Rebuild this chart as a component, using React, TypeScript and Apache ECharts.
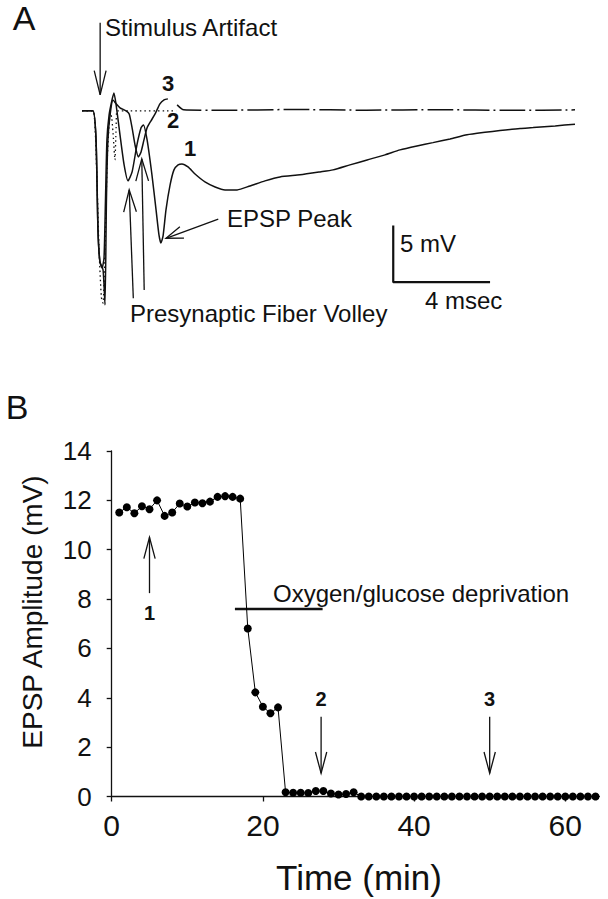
import React, { useEffect, useRef } from "react";
import * as echarts from "echarts";

// ---------- Panel B data ----------
const timeMin = [
  1, 2, 3, 4, 5, 6, 7, 8, 9, 10, 11, 12, 13, 14, 15, 16, 17,
  18, 19, 20, 21, 22,
  23, 24, 25, 26, 27, 28, 29, 30, 31, 32,
  33, 34, 35, 36, 37, 38, 39, 40, 41, 42, 43, 44, 45, 46, 47, 48,
  49, 50, 51, 52, 53, 54, 55, 56, 57, 58, 59, 60, 61, 62, 63, 64,
];
const epspAmplitude = [
  11.51, 11.72, 11.48, 11.76, 11.64, 12.0, 11.37, 11.51, 11.87, 11.75, 11.91, 11.88, 11.95, 12.14, 12.17, 12.14, 12.07,
  6.81, 4.22, 3.64, 3.37, 3.61,
  0.17, 0.15, 0.15, 0.14, 0.22, 0.22, 0.12, 0.08, 0.1, 0.17,
  0, 0, 0, 0, 0, 0, 0, 0, 0, 0, 0, 0, 0, 0, 0, 0,
  0, 0, 0, 0, 0, 0, 0, 0, 0, 0, 0, 0, 0, 0, 0, 0,
];
const xTicks = [0, 20, 40, 60];
const ogdSpan = [16.3, 27.9]; // minutes
const ogdLevel = 7.6; // mV
// arrows: [time, tailValue, tipValue, labelValue, label]
const sampleArrows: [number, number, number, number, string][] = [
  [5, 8.24, 10.5, 7.43, "1"],
  [27.7, 3.23, 0.94, 3.95, "2"],
  [50, 3.23, 0.94, 3.95, "3"],
];

// ---------- Panel A traces (ms, mV) ----------
const trace1 = [
  [-0.75, 0], [-0.3, 0], [-0.17, -2.57], [-0.09, -10.53], [-0.01, -13.36], [0.08, -13.89], [0.16, -13.01],
  [0.22, -7.88], [0.28, -2.57], [0.37, -0.35], [0.49, 0.97], [0.57, 1.59], [0.66, 0.53], [0.82, -2.12],
  [0.99, -4.78], [1.15, -6.19], [1.32, -5.4], [1.52, -3.01], [1.69, -1.5], [1.79, -1.24], [1.94, -2.57],
  [2.14, -5.66], [2.31, -8.76], [2.43, -10.97], [2.51, -11.68], [2.6, -11.06], [2.72, -8.76], [2.89, -6.55],
  [3.05, -5.22], [3.22, -4.78], [3.38, -4.69], [3.63, -4.96], [3.92, -5.58], [4.33, -6.28], [4.75, -6.73],
  [5.16, -6.99], [5.66, -6.99], [6.19, -6.64], [6.81, -6.19], [7.43, -5.84], [8.26, -5.66], [9.09, -5.4],
  [9.62, -5.22], [10.32, -4.78], [11.03, -4.34], [11.77, -3.89], [12.39, -3.45], [13.09, -3.1], [13.75, -2.81],
  [14.46, -2.48], [15.16, -2.12], [15.9, -1.9], [16.52, -1.74], [17.35, -1.55], [17.89, -1.48], [18.8, -1.33],
  [19.62, -1.18],
];
const trace2Early = [
  [-0.75, 0], [-0.3, 0], [-0.17, -2.57], [-0.09, -10.53], [-0.01, -13.36], [0.12, -14.07], [0.2, -17.17],
  [0.26, -7.88], [0.32, -2.57], [0.41, -0.35], [0.53, 0.97], [0.66, 0.62], [0.82, 0.27], [1.07, 0],
  [1.2, -0.27], [1.32, -1.5], [1.44, -3.01], [1.58, -4.07], [1.69, -3.63], [1.81, -2.57], [1.94, -1.5],
  [2.1, -0.88], [2.27, -0.27], [2.47, 0.62], [2.64, 0.97], [2.8, 1.06],
];
const trace2Late = [
  [3.18, 0.53], [3.45, 0.09], [5, 0.05], [8, 0.12], [11, 0.06], [14, 0.1], [17, 0.05], [19.62, 0.09],
];
const trace3Dotted = [
  [-0.75, 0], [-0.3, 0], [-0.15, -5], [-0.05, -12], [0.05, -16.5], [0.12, -17.0], [0.2, -12], [0.3, -4],
  [0.42, -0.2], [0.48, -0.62], [0.55, -2.5], [0.61, -4.34], [0.66, -1.5], [0.7, 0], [3.14, 0],
];
const scaleBar = [[12.11, -10.15], [12.11, -15.15], [16.11, -15.15]];
// panel A arrows: [tail(ms,mV), tip(ms,mV)]
const stimArrow = [[0, 7.79], [0, 1.42]];
const volleyArrows = [
  [[1.37, -16.58], [1.2, -6.99]],
  [[1.82, -15.84], [1.72, -4.25]],
];
const epspArrow = [[4.88, -9.58], [2.72, -11.27]];

const FONT = "'Liberation Sans', Arial, Helvetica, sans-serif";
const BOLD = "'Liberation Sans Narrow', 'Liberation Sans', Arial, sans-serif";
const INK = "#111";

function arrowEls(tail: number[], tip: number[], hl = 22, ang = 0.28, lw = 1.3) {
  const dx = tail[0] - tip[0];
  const dy = tail[1] - tip[1];
  const L = Math.hypot(dx, dy) || 1;
  const ux = dx / L, uy = dy / L;
  const rot = (a: number) => [ux * Math.cos(a) - uy * Math.sin(a), ux * Math.sin(a) + uy * Math.cos(a)];
  const r1 = rot(ang), r2 = rot(-ang);
  return [
    { type: "line", silent: true, shape: { x1: tail[0], y1: tail[1], x2: tip[0], y2: tip[1] }, style: { stroke: INK, lineWidth: lw } },
    {
      type: "polyline", silent: true,
      shape: { points: [[tip[0] + r1[0] * hl, tip[1] + r1[1] * hl], [tip[0], tip[1]], [tip[0] + r2[0] * hl, tip[1] + r2[1] * hl]] },
      style: { stroke: INK, lineWidth: lw, fill: null },
    },
  ];
}

function txt(text: string, x: number, y: number, size: number, align = "left", bold = false, rotation = 0) {
  return {
    type: "text", silent: true, x, y, rotation,
    style: {
      text, fill: INK, fontSize: size, fontFamily: bold ? BOLD : FONT, fontWeight: bold ? "bold" : "normal",
      align, verticalAlign: "middle",
    },
  };
}

export default function App() {
  const ref = useRef<HTMLDivElement>(null);
  useEffect(() => {
    if (!ref.current) return;
    const chart = echarts.init(ref.current, null, { renderer: "svg" });
    const traceLine = (data: number[][], extra: any = {}) => ({
      type: "line", xAxisIndex: 0, yAxisIndex: 0, data, showSymbol: false, symbol: "none",
      smooth: 0.2, clip: false, silent: true,
      lineStyle: { color: INK, width: 1.5, ...extra },
    });
    chart.setOption({
      animation: false,
      backgroundColor: "#fff",
      grid: [
        { left: 82, top: 60, width: 493, height: 260, outerBoundsMode: "none" },
        { left: 111.7, top: 451, width: 487.6, height: 345.5, outerBoundsMode: "none" },
      ],
      xAxis: [
        { gridIndex: 0, type: "value", min: -0.75, max: 19.62, show: false },
        {
          gridIndex: 1, type: "value", min: 0, max: 64.5, interval: 20,
          axisLine: { show: true, onZero: false, lineStyle: { color: INK, width: 1.3 } },
          axisTick: { show: true, length: 5, customValues: xTicks, lineStyle: { color: INK, width: 1.3 } },
          axisLabel: { customValues: xTicks, fontSize: 30, fontFamily: FONT, color: INK, margin: 14 },
          splitLine: { show: false },
        },
      ],
      yAxis: [
        { gridIndex: 0, type: "value", min: -18.5, max: 4.5, show: false },
        {
          gridIndex: 1, type: "value", min: 0, max: 14, interval: 2,
          axisLine: { show: true, onZero: false, lineStyle: { color: INK, width: 1.3 } },
          axisTick: { show: true, length: 5, lineStyle: { color: INK, width: 1.3 } },
          axisLabel: { fontSize: 26, fontFamily: FONT, color: INK, margin: 20 },
          splitLine: { show: false },
        },
      ],
      series: [
        traceLine(trace3Dotted, { type: [1.5, 3], width: 1.3 }),
        traceLine(trace1),
        traceLine(trace2Early),
        traceLine(trace2Late, { type: [26, 4, 2, 4] }),
        { ...traceLine(scaleBar, { width: 2.2 }), smooth: false },
        {
          type: "line", xAxisIndex: 1, yAxisIndex: 1,
          data: [[ogdSpan[0], ogdLevel], [ogdSpan[1], ogdLevel]],
          symbol: "none", silent: true, clip: false,
          lineStyle: { color: INK, width: 2.5 },
        },
        {
          type: "line", xAxisIndex: 1, yAxisIndex: 1,
          data: timeMin.map((t, i) => [t, epspAmplitude[i]]),
          symbol: "circle", symbolSize: 8, showSymbol: true, clip: false, silent: true,
          itemStyle: { color: "#000" },
          lineStyle: { color: "#000", width: 1 },
        },
      ],
    });

    const pA = (p: number[]) => chart.convertToPixel({ gridIndex: 0 }, p) as number[];
    const pB = (p: number[]) => chart.convertToPixel({ gridIndex: 1 }, p) as number[];

    const g: any[] = [];
    // Panel A
    g.push(txt("A", 24, 18, 34, "center"));
    g.push(txt("Stimulus Artifact", 105, 27, 24));
    g.push(...arrowEls(pA(stimArrow[0]), pA(stimArrow[1]), 25, 0.24));
    volleyArrows.forEach((a) => g.push(...arrowEls(pA(a[0]), pA(a[1]), 23, 0.28)));
    g.push(...arrowEls(pA(epspArrow[0]), pA(epspArrow[1]), 18, 0.34));
    g.push(txt("3", 168, 83, 22, "center", true));
    g.push(txt("2", 173, 120, 22, "center", true));
    g.push(txt("1", 190, 148, 22, "center", true));
    g.push(txt("EPSP Peak", 227, 218, 24));
    g.push(txt("5 mV", 400, 243, 24));
    g.push(txt("4 msec", 425, 300, 24));
    g.push(txt("Presynaptic Fiber Volley", 130, 313, 24));

    // Panel B
    g.push(txt("B", 17, 407, 34, "center"));
    g.push(txt("Oxygen/glucose deprivation", 273, 593, 24));
    g.push(txt("EPSP Amplitude (mV)", 32, 612, 28, "center", false, Math.PI / 2));
    g.push(txt("Time (min)", 359, 877, 35, "center"));
    sampleArrows.forEach(([t, tail, tip, lab, s]) => {
      g.push(...arrowEls(pB([t, tail]), pB([t, tip]), 22, 0.26));
      const lp = pB([t, lab]);
      g.push(txt(s, lp[0], lp[1], 20, "center", true));
    });

    chart.setOption({ graphic: g });
    return () => chart.dispose();
  }, []);
  return (
    <div
      ref={ref}
      style={{ position: "absolute", left: 0, top: 0, width: 608, height: 899, background: "#fff" }}
    />
  );
}
